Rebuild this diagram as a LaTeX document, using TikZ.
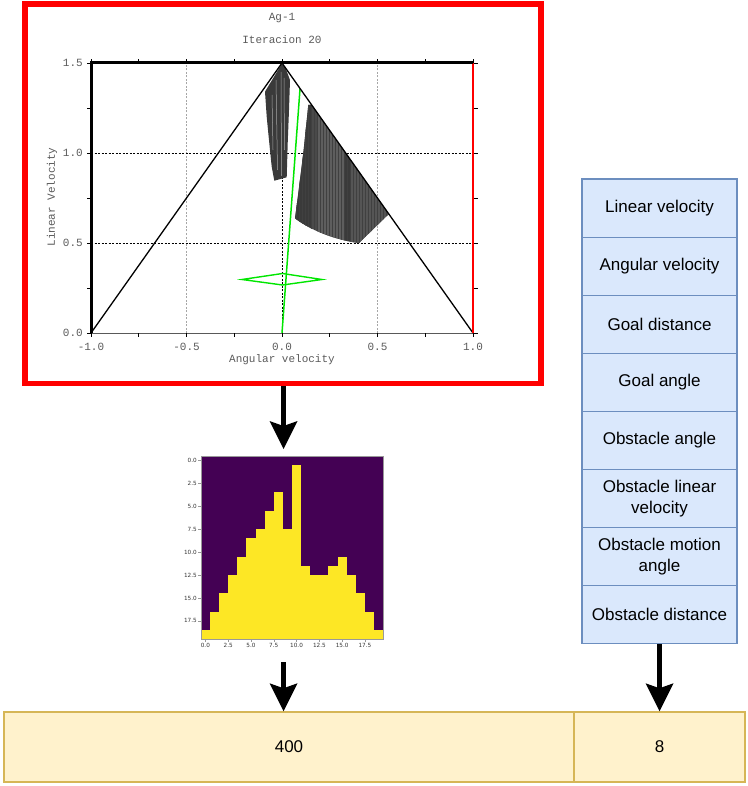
\documentclass[tikz,border=0pt]{standalone}
\usepackage{fontspec}
\setmainfont{Liberation Sans}
\newfontfamily\plotfont{Liberation Mono}
\newfontfamily\mplfont{DejaVu Sans}
\usetikzlibrary{arrows.meta}
\definecolor{cellfill}{HTML}{DAE8FC}
\definecolor{cellborder}{HTML}{6C8EBF}
\definecolor{barfill}{HTML}{FFF2CC}
\definecolor{barborder}{HTML}{D6B656}
\definecolor{vpurple}{HTML}{440154}
\definecolor{vyellow}{HTML}{FDE725}
\definecolor{plotgray}{HTML}{5A5A5A}
\definecolor{plotgreen}{HTML}{00E600}
\definecolor{blobdark}{HTML}{3A3A3A}
\definecolor{blobmid}{HTML}{4A4A4A}
\definecolor{bloblight}{HTML}{5E5E5E}
\begin{document}
\begin{tikzpicture}[x=1pt,y=-1pt,
  cellbox/.style={draw=cellborder, fill=cellfill, line width=1.2pt, minimum width=155pt, minimum height=58.1pt, align=center, inner sep=0pt, font=\fontsize{17}{21.5}\selectfont},
  barbox/.style={draw=barborder, fill=barfill, line width=1.5pt, minimum height=70pt, inner sep=0pt, font=\fontsize{17}{21}\selectfont},
  bigarrow/.style={line width=5pt, -{Stealth[length=28pt 0 0, width=28pt 0 0, inset=5pt 0 0, line width=0pt 0 0]}},
  plottext/.style={font=\plotfont\fontsize{11}{13}\selectfont, text=plotgray, inner sep=1pt},
  mpltext/.style={font=\mplfont\fontsize{5.7}{7}\selectfont, text=black!80, inner sep=0.8pt},
  griddash/.style={dash pattern=on 2pt off 1.5pt, line width=0.6pt},
]
\useasboundingbox (0,0) rectangle (747,786);

% ---------- plot frame ----------
\node[draw=red, line width=5.5pt, minimum width=516pt, minimum height=379.5pt, inner sep=0pt] (plotframe) at (283,193.75) {};

\node[plottext] (title1) at (282,18) {Ag-1};
\node[plottext] (title2) at (282,40) {Iteracion 20};
\node[plottext] (xlabel) at (282,360) {Angular velocity};
\node[plottext, rotate=90] (ylabel) at (52,197) {Linear Velocity};

\foreach \v/\t [count=\k] in {-1/-1.0,-0.5/-0.5,0/0.0,0.5/0.5,1/1.0}
  \node[plottext] (xt\k) at ({282+191*\v},347) {\t};
\foreach \v/\t [count=\k] in {0/0.0,0.5/0.5,1/1.0,1.5/1.5}
  \node[plottext, anchor=east] (yt\k) at (84,{333-180*\v}) {\t};

% grid
\begin{scope}[shift={(282,333)}, x=191pt, y=180pt]
  \draw[gray!70, griddash] (-0.5,0) -- (-0.5,1.5) (0.5,0) -- (0.5,1.5);
  \draw[black, griddash] (-1,1) -- (1,1) (-1,0.5) -- (1,0.5) (0,0) -- (0,1.5);
\end{scope}

% left blob
\fill[blobdark] (281.7,64) -- (265,91.7) -- (266.7,116.7) -- (269.3,143.3) -- (271.7,166.7) -- (274.3,180.7)
  -- (286.7,177.3) -- (287.7,143.3) -- (289,110) -- (290,80) -- (285,66.7) -- cycle;
\draw[gray!70, line width=0.5pt] (276,80) -- (277.5,170) (281,72) -- (281.5,176) (284,78) -- (284.5,150) (272,95) -- (273,150);

% right blob
\begin{scope}
  \clip (308.3,105) -- (311.7,105) -- (388.8,214) -- (359,243) .. controls (335,240) and (310,230) .. (295,218.3)
    -- (298.3,193.3) -- (303.3,153.3) -- cycle;
  \fill[blobmid] (290,100) rectangle (395,250);
  \fill[blobdark] (290,100) rectangle (312,250);
  \fill[bloblight] (318,100) rectangle (345,250);
  \fill[blobdark] (345,100) rectangle (350,250);
  \fill[bloblight!90!black] (350,100) rectangle (395,250);
  \foreach \i in {296,299,...,392}
    \draw[black!75, line width=0.35pt] (\i,100) -- (\i,250);
\end{scope}

% green
\draw[plotgreen, line width=1.5pt] (282,333) -- (300,89);
\draw[plotgreen, line width=1.4pt] (242,279.5) -- (282.5,273.5) -- (322,279.5) -- (282.5,285) -- cycle;

% triangle and axes
\begin{scope}[shift={(282,333)}, x=191pt, y=180pt]
  \draw[line width=1.3pt] (-1,0) -- (0,1.5) -- (1,0);
  \foreach \t in {-1,-0.75,...,1.01} {
    \draw[line width=0.7pt] (\t,1.5) -- ++(0,4pt);
    \draw[line width=0.7pt] (\t,0) -- ++(0,-4pt);
  }
  \foreach \t in {0,0.25,...,1.51} {
    \draw[line width=0.7pt] (-1,\t) -- ++(-4pt,0);
    \draw[line width=0.7pt] (1,\t) -- ++(5pt,0);
  }
  \draw[line width=0.9pt] (-1,0) -- (1,0) -- ++(4pt,0);
  \draw[red, line width=1.8pt] (1,0) -- (1,1.5);
  \draw[line width=3pt] (-1,0) -- (-1,1.5) -- (1,1.5);
\end{scope}

% ---------- heat map ----------
\node[inner sep=0pt, minimum width=182.4pt, minimum height=183.4pt] (hm) at (292.2,547.7) {};
\begin{scope}[shift={(hm.north west)}, x=9.12pt, y=-9.17pt]
  \fill[vpurple] (0,0) rectangle (20,20);
  \foreach \h [count=\j from 0] in {1,3,5,7,9,11,12,14,16,12,19,8,7,7,8,9,7,5,3,1}
    \fill[vyellow] (\j,20-\h) rectangle (\j+1,20);
  \draw[gray!80, line width=0.6pt] (0,0) rectangle (20,20);
  \foreach \v/\t [count=\k] in {0/0.0,2.5/2.5,5/5.0,7.5/7.5,10/10.0,12.5/12.5,15/15.0,17.5/17.5} {
    \draw[gray!80, line width=0.5pt] (\v+0.5,20) -- ++(0,-2.5pt);
    \node[mpltext, anchor=north] (hx\k) at ([yshift=-3pt]\v+0.5,20) {\t};
    \draw[gray!80, line width=0.5pt] (0,\v+0.5) -- ++(-2.5pt,0);
    \node[mpltext, anchor=east] (hy\k) at ([xshift=-3pt]0,\v+0.5) {\t};
  }
\end{scope}

% ---------- table ----------
\foreach \t [count=\i] in {Linear velocity, Angular velocity, Goal distance, Goal angle, Obstacle angle,
    {Obstacle linear\\velocity}, {Obstacle motion\\angle}, Obstacle distance}
  \node[cellbox] (t\i) at (659.5,{179+58.1*(\i-0.5)}) {\t};

% ---------- bar ----------
\node[barbox, minimum width=570pt] (barL) at (289,747) {400};
\node[barbox, minimum width=171pt] (barR) at (659.5,747) {8};

% ---------- arrows ----------
\coordinate (a1e) at (283.5,449);
\coordinate (a2s) at (283.5,662);
\draw[bigarrow] (plotframe.south -| a1e) -- (a1e);
\draw[bigarrow] (a2s) -- (a2s |- barL.north);
\draw[bigarrow] (t8.south) -- (t8.south |- barR.north);
\end{tikzpicture}
\end{document}
